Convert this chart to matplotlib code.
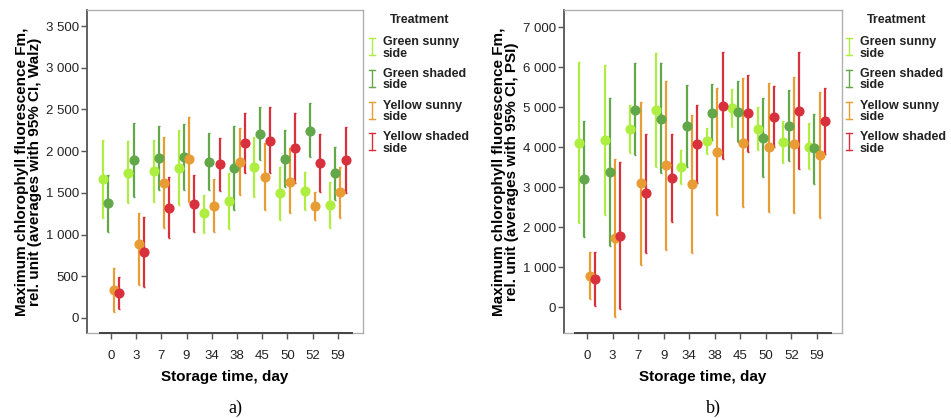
import matplotlib
matplotlib.use("Agg")
import matplotlib.pyplot as plt
from matplotlib.lines import Line2D
from matplotlib.ticker import FuncFormatter, FixedLocator
import numpy as np

plt.rcParams['font.family'] = ['Liberation Sans', 'DejaVu Sans']

days = ["0", "3", "7", "9", "34", "38", "45", "50", "52", "59"]
treatments = ["Green sunny\nside", "Green shaded\nside", "Yellow sunny\nside", "Yellow shaded\nside"]
colors = ["#aeee40", "#62a84a", "#e89c34", "#d8303c"]

# Panel a: Walz (mean, lower CI, upper CI)
walz_gs_mean = [1667, 1739, 1763, 1799, 1259, 1403, 1811, 1499, 1523, 1355]
walz_gs_lo   = [1199, 1379, 1391, 1355, 1019, 1067, 1451, 1175, 1295, 1079]
walz_gs_hi   = [2134, 2122, 2134, 2254, 1475, 1739, 2170, 1811, 1751, 1631]
walz_gsh_mean = [1379, 1894, 1918, 1930, 1870, 1799, 2206, 1906, 2242, 1739]
walz_gsh_lo   = [1031, 1450, 1530, 1535, 1535, 1295, 1894, 1571, 1930, 1415]
walz_gsh_hi   = [1715, 2338, 2302, 2326, 2218, 2302, 2530, 2254, 2578, 2050]
walz_ys_mean = [336, 887, 1619, 1906, 1343, 1870, 1691, 1631, 1343, 1511]
walz_ys_lo   = [72, 396, 1079, 1391, 1031, 1475, 1295, 1259, 1175, 1199]
walz_ys_hi   = [600, 1259, 2170, 2410, 1667, 2278, 2098, 2038, 1511, 1811]
walz_ysh_mean = [300, 791, 1319, 1367, 1847, 2098, 2122, 2038, 1859, 1894]
walz_ysh_lo   = [108, 372, 959, 1031, 1523, 1739, 1739, 1619, 1511, 1499]
walz_ysh_hi   = [492, 1211, 1691, 1715, 2158, 2458, 2530, 2458, 2206, 2290]

# Panel b: PSI
psi_gs_mean = [4100, 4175, 4450, 4925, 3500, 4150, 4975, 4450, 4125, 4000]
psi_gs_lo   = [2100, 2300, 3850, 3500, 3075, 3825, 4500, 3925, 3600, 3450]
psi_gs_hi   = [6125, 6050, 5050, 6350, 3925, 4475, 5450, 5000, 4650, 4600]
psi_gsh_mean = [3200, 3375, 4925, 4700, 4525, 4850, 4875, 4225, 4525, 3975]
psi_gsh_lo   = [1750, 1525, 3800, 3350, 3500, 4175, 4125, 3250, 3650, 3075]
psi_gsh_hi   = [4650, 5225, 6100, 6100, 5550, 5575, 5650, 5225, 5425, 4825]
psi_ys_mean = [775, 1725, 3100, 3550, 3075, 3875, 4100, 4000, 4075, 3800]
psi_ys_lo   = [200, -250, 1050, 1425, 1350, 2300, 2500, 2375, 2350, 2225]
psi_ys_hi   = [1375, 3700, 5125, 5650, 4800, 5475, 5725, 5600, 5750, 5375]
psi_ysh_mean = [700, 1775, 2850, 3225, 4075, 5025, 4850, 4750, 4900, 4650]
psi_ysh_lo   = [25, -50, 1350, 2125, 3100, 3700, 3875, 4000, 3450, 3825]
psi_ysh_hi   = [1375, 3625, 4325, 4325, 5050, 6375, 5800, 5525, 6375, 5475]

walz = [(walz_gs_mean, walz_gs_lo, walz_gs_hi), (walz_gsh_mean, walz_gsh_lo, walz_gsh_hi),
        (walz_ys_mean, walz_ys_lo, walz_ys_hi), (walz_ysh_mean, walz_ysh_lo, walz_ysh_hi)]
psi = [(psi_gs_mean, psi_gs_lo, psi_gs_hi), (psi_gsh_mean, psi_gsh_lo, psi_gsh_hi),
       (psi_ys_mean, psi_ys_lo, psi_ys_hi), (psi_ysh_mean, psi_ysh_lo, psi_ysh_hi)]

W, H = 951, 418
fig = plt.figure(figsize=(W / 100, H / 100), dpi=100)

offsets = [-0.31, -0.105, 0.105, 0.31]
fmt = FuncFormatter(lambda v, p: f"{int(round(v)):,}".replace(",", " "))


def px(x0, y0, x1, y1):
    return [x0 / W, 1 - y1 / H, (x1 - x0) / W, (y1 - y0) / H]


def panel(rect, data, ylim, xlim, yticks, ylabel, tag, leg_x):
    ax = fig.add_axes(px(*rect))
    x = np.arange(len(days))
    for (m, lo, hi), c, off in zip(data, colors, offsets):
        m = np.array(m); lo = np.array(lo); hi = np.array(hi)
        ax.errorbar(x + off, m, yerr=[m - lo, hi - m], fmt='o', color=c,
                    ms=6.3, elinewidth=1.6, capsize=1.0, capthick=1.0, zorder=3)
    ax.set_xlim(*xlim)
    ax.set_ylim(*ylim)
    ax.yaxis.set_major_locator(FixedLocator(yticks))
    ax.yaxis.set_major_formatter(fmt)
    ax.set_xticks(x)
    ax.set_xticklabels(days)
    ax.tick_params(axis='y', length=4.3, width=1.0, color='#555555', labelsize=9.5,
                   labelcolor='#222222', pad=1.5)
    ax.tick_params(axis='x', length=4.0, width=1.0, color='#555555', labelsize=9.5,
                   labelcolor='#222222', pad=8)
    for s in ['top', 'right', 'bottom']:
        ax.spines[s].set_color('#b0b0b0')
        ax.spines[s].set_linewidth(1.0)
    ax.spines['left'].set_color('#555555')
    ax.spines['left'].set_linewidth(1.3)
    ax.plot([-0.45, 9.55], [ylim[0], ylim[0]], color='#444444', lw=1.4,
            clip_on=False, zorder=5)
    ax.set_ylabel(ylabel, fontsize=11, fontweight='bold', linespacing=0.88, labelpad=3)
    ax.set_xlabel("Storage time, day", fontsize=11, fontweight='bold', labelpad=6)
    cx = (rect[0] + rect[2]) / 2 + 10
    fig.text(cx / W, 1 - 408 / H, tag, family='Liberation Serif', fontsize=13,
             ha='center', va='center')
    # legend
    fig.text((leg_x + 48) / W, 1 - 20 / H, "Treatment", fontsize=9,
             fontweight='bold', ha='center', va='center', color='#222222')
    for i, (lab, c) in enumerate(zip(treatments, colors)):
        yc = 42 + i * 31.8
        fig.text((leg_x + 11) / W, 1 - (yc - 6) / H, lab, fontsize=9,
                 fontweight='bold', ha='left', va='top', linespacing=0.95,
                 color='#222222')
        xi = leg_x / W
        y0 = 1 - (yc - 4) / H
        y1 = 1 - (yc + 13) / H
        fig.add_artist(Line2D([xi, xi], [y0, y1], color=c, lw=1.0))
        d = 3 / W
        fig.add_artist(Line2D([xi - d, xi + d], [y0, y0], color=c, lw=1.0))
        fig.add_artist(Line2D([xi - d, xi + d], [y1, y1], color=c, lw=1.0))
    return ax


panel((87, 10, 363, 333), walz, (-180, 3692), (-0.95, 10.0),
      [0, 500, 1000, 1500, 2000, 2500, 3000, 3500],
      "Maximum chlorophyll fluorescence Fm,\nrel. unit (averages with 95% CI, Walz)",
      "a)", 372)
panel((564, 10, 842, 333), psi, (-650, 7425), (-0.9, 9.98),
      [0, 1000, 2000, 3000, 4000, 5000, 6000, 7000],
      "Maximum chlorophyll fluorescence Fm,\nrel. unit (averages with 95% CI, PSI)",
      "b)", 849)

fig.savefig("out.png", dpi=100)
